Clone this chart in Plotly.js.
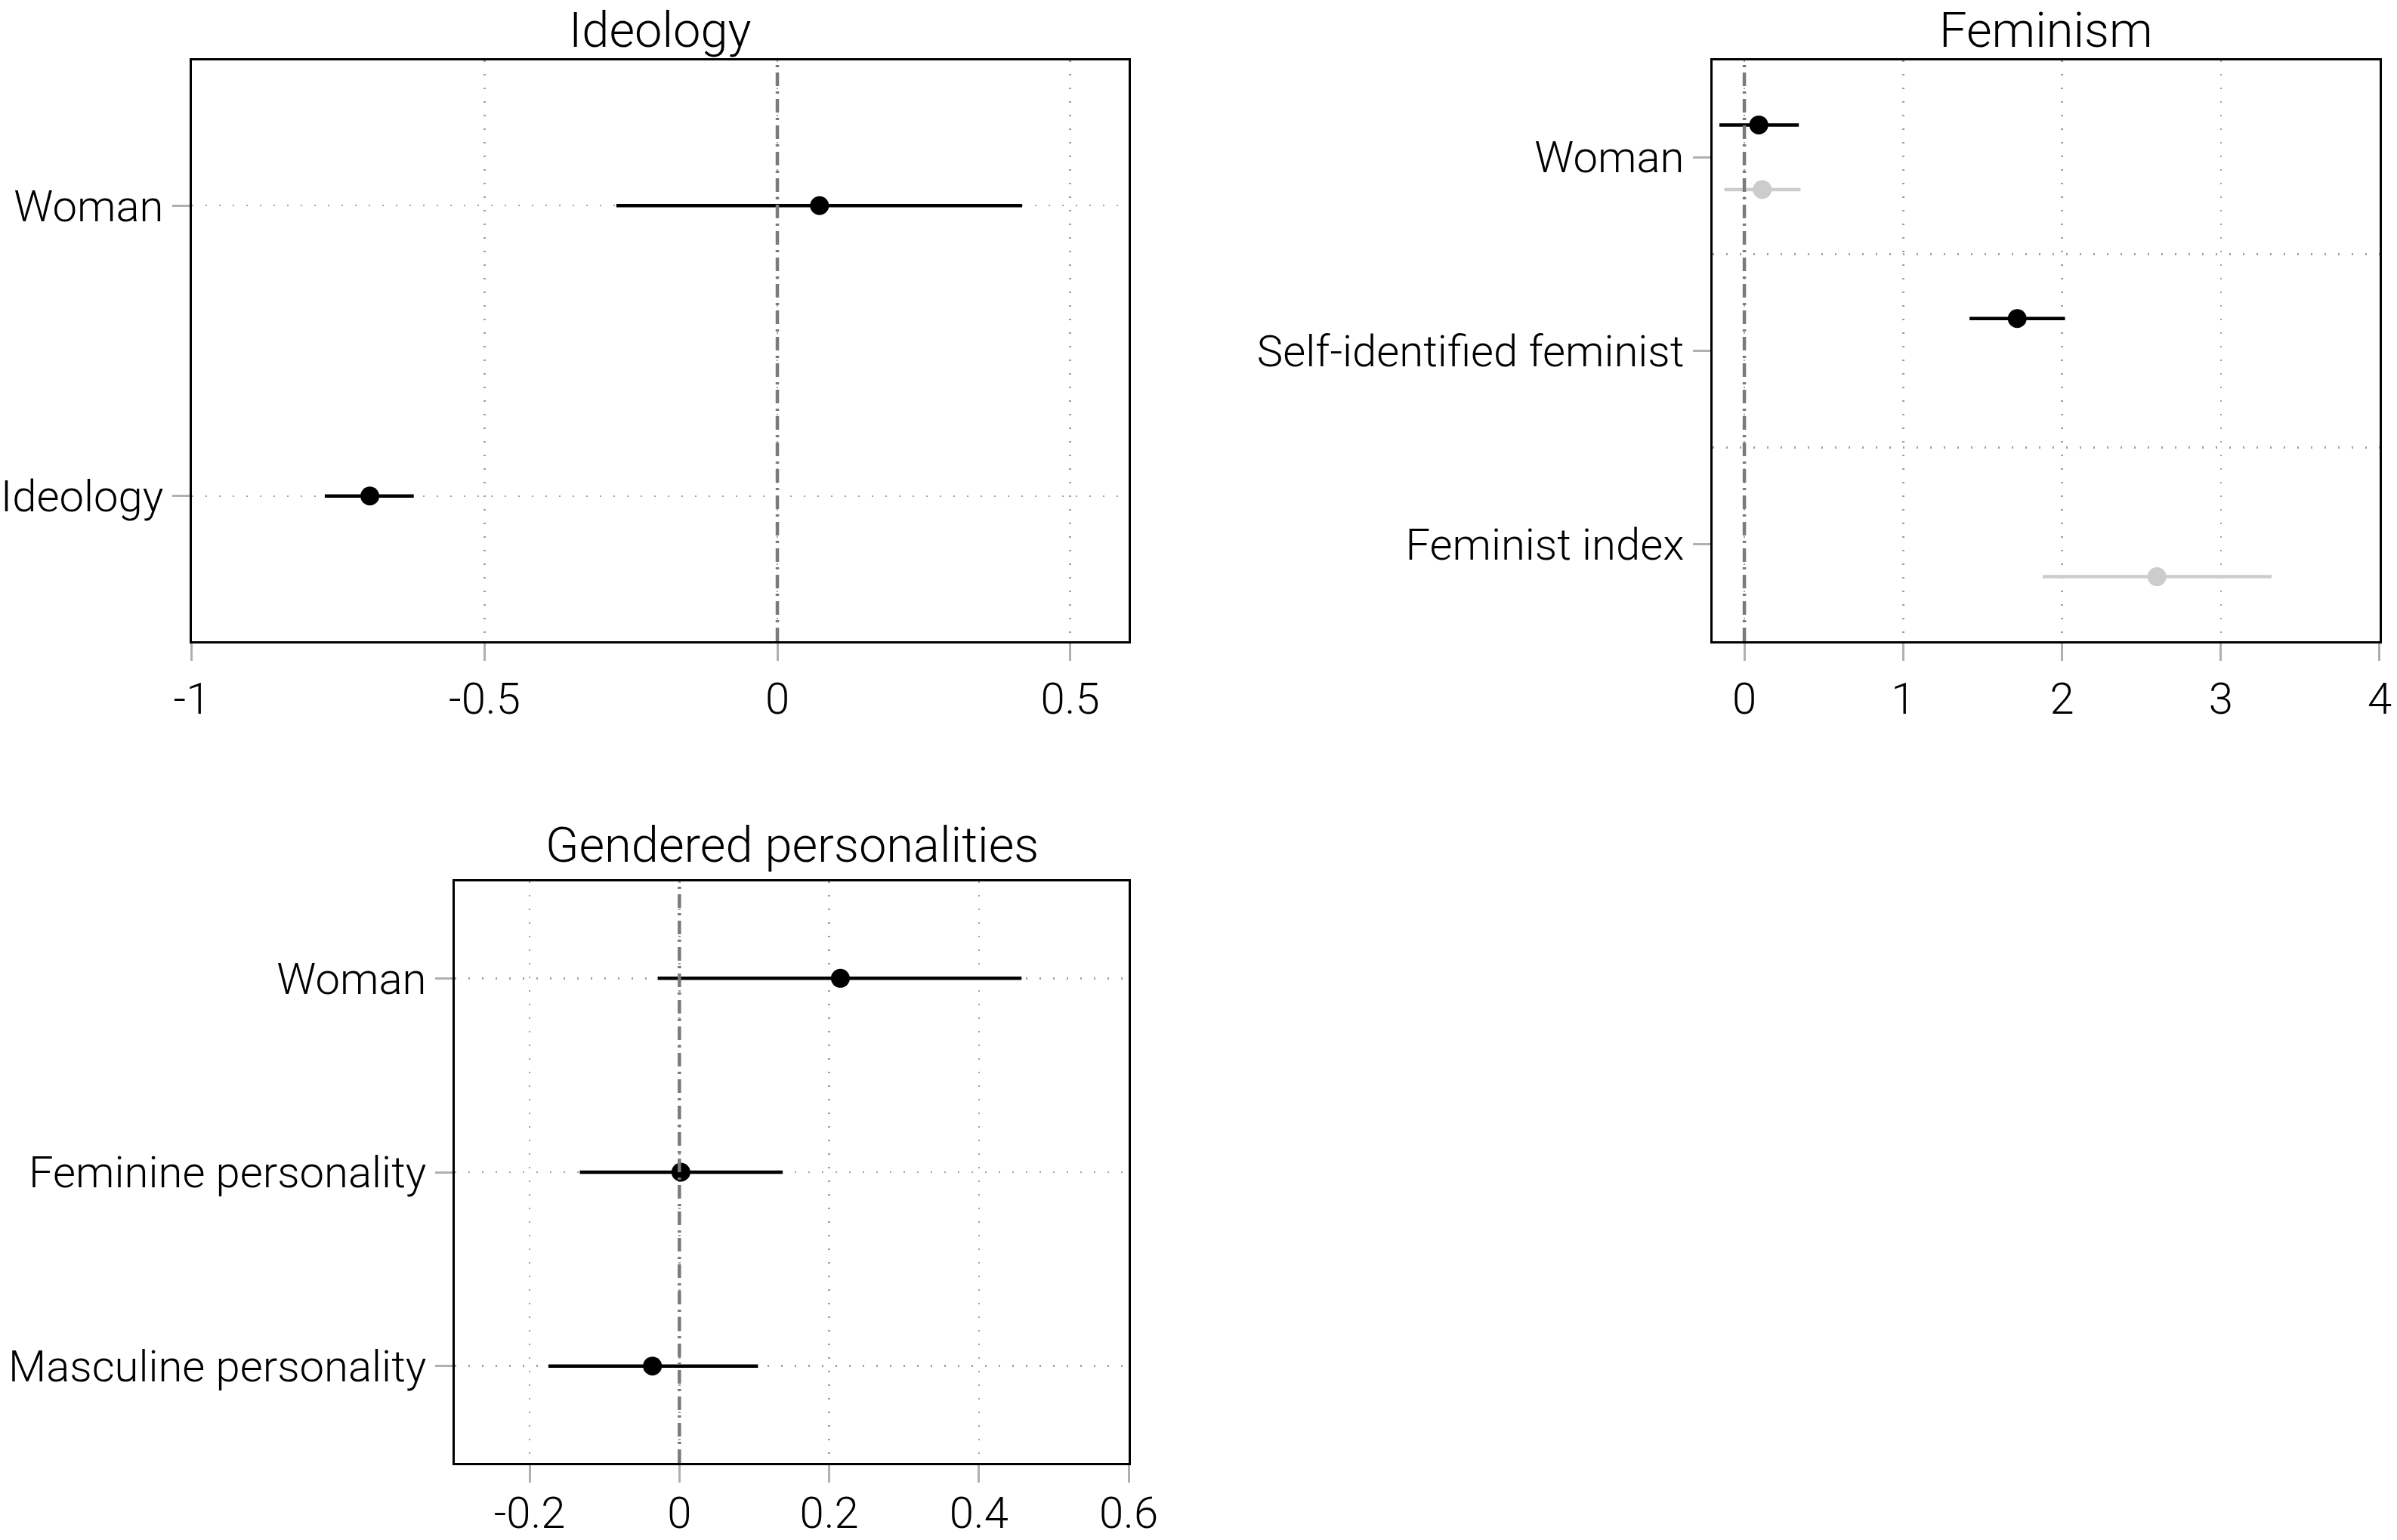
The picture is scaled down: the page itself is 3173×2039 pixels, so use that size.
<!DOCTYPE html>
<html>
<head>
<meta charset="utf-8">
<script src="https://cdn.plot.ly/plotly-3.0.1.min.js"></script>
<style>html,body{margin:0;padding:0;background:#fff;}#plot{width:3173px;height:2039px;}</style>
</head>
<body>
<div id="plot"></div>
<script>
// ---- Data ----
const ideoLabels = ["Woman", "Ideology"];
const ideoEst = [0.072, -0.696];
const ideoLo = [-0.275, -0.773];
const ideoHi = [0.418, -0.621];
const ideoTicks = [-1, -0.5, 0, 0.5];

const femLabels = ["Woman", "Self-identified feminist", "Feminist index"];
const femM1Labels = ["Woman", "Self-identified feminist"];
const femM1Est = [0.091, 1.718];
const femM1Lo = [-0.157, 1.418];
const femM1Hi = [0.343, 2.019];
const femM2Labels = ["Woman", "Feminist index"];
const femM2Est = [0.113, 2.598];
const femM2Lo = [-0.126, 1.878];
const femM2Hi = [0.354, 3.320];
const femTicks = [0, 1, 2, 3, 4];

const genLabels = ["Woman", "Feminine personality", "Masculine personality"];
const genEst = [0.215, 0.002, -0.036];
const genLo = [-0.029, -0.133, -0.175];
const genHi = [0.457, 0.138, 0.105];
const genTicks = [-0.2, 0, 0.2, 0.4, 0.6];

const refValue = 0;

// ---- Helpers ----
const BLACK = "#000000";
const LIGHT = "#cccccc";
const FONT = "Roboto, 'Liberation Sans', Arial, sans-serif";

function pos(allLabels, labels, offset) {
  return labels.map(l => allLabels.indexOf(l) + 1 + offset);
}
function trace(est, lo, hi, ys, color, xa, ya) {
  return {
    type: "scatter", mode: "markers", x: est, y: ys, xaxis: xa, yaxis: ya,
    marker: {color: color, size: 25, line: {width: 0}},
    error_x: {type: "data", symmetric: false,
      array: est.map((e, i) => hi[i] - e),
      arrayminus: est.map((e, i) => e - lo[i]),
      width: 0, thickness: 4.5, color: color},
    showlegend: false, hoverinfo: "x+y", cliponaxis: false
  };
}

const data = [
  trace(ideoEst, ideoLo, ideoHi, pos(ideoLabels, ideoLabels, 0), BLACK, "x", "y"),
  trace(femM1Est, femM1Lo, femM1Hi, pos(femLabels, femM1Labels, -1/6), BLACK, "x2", "y2"),
  trace(femM2Est, femM2Lo, femM2Hi, pos(femLabels, femM2Labels, 1/6), LIGHT, "x2", "y2"),
  trace(genEst, genLo, genHi, pos(genLabels, genLabels, 0), BLACK, "x3", "y3")
];

const TICKFONT = {family: FONT, size: 58, color: "#000", weight: 300};

function xaxis(domain, range, ticks, anchor, standoff) {
  return {
    domain: domain, range: range, anchor: anchor,
    tickmode: "array", tickvals: ticks, ticktext: ticks.map(v => String(v)),
    showline: true, linecolor: "#000", linewidth: 3, mirror: true,
    ticks: "outside", ticklen: 23, tickwidth: 3, tickcolor: "#b0b0b0",
    showgrid: true, gridcolor: "#a0a0a0", gridwidth: 2.5, griddash: "2px,16px",
    zeroline: false, tickfont: TICKFONT,
    ticklabelstandoff: standoff, fixedrange: true
  };
}
function yaxis(domain, labels, anchor, midGrid) {
  const ax = {
    domain: domain, range: [labels.length + 0.5, 0.5], anchor: anchor,
    tickmode: "array", tickvals: labels.map((l, i) => i + 1), ticktext: labels,
    showline: true, linecolor: "#000", linewidth: 3, mirror: true,
    ticks: "outside", ticklen: 23, tickwidth: 3, tickcolor: "#b0b0b0",
    showgrid: !midGrid, gridcolor: "#a0a0a0", gridwidth: 2.5, griddash: "2px,16px",
    zeroline: false, tickfont: TICKFONT,
    ticklabelstandoff: 0, fixedrange: true
  };
  if (midGrid) {
    ax.minor = {tickvals: labels.slice(1).map((l, i) => i + 1.5), ticks: "",
      showgrid: true, gridcolor: "#a0a0a0", gridwidth: 2.5, griddash: "2px,16px"};
  }
  return ax;
}

const topDom = [0.58362, 0.96077];
const botDom = [0.05002, 0.42766];

function refLine(xref, yref) {
  return {type: "line", xref: xref, yref: yref + " domain", x0: refValue, x1: refValue, y0: 0, y1: 1,
    line: {color: "#7a7a7a", width: 4.5, dash: "18px,7px,3px,7px"}, layer: "above"};
}
function title(text, xc, yc, anchor) {
  return {text: text, xref: "paper", yref: "paper", x: xc, y: yc, xanchor: "center", yanchor: anchor,
    showarrow: false, font: {family: FONT, size: 65, color: "#000", weight: 300}};
}

const layout = {
  width: 3173, height: 2039, margin: {l: 0, r: 0, t: 0, b: 0},
  paper_bgcolor: "#fff", plot_bgcolor: "#fff",
  font: {family: FONT, color: "#000"},
  xaxis: xaxis([0.08005, 0.47085], [-1, 0.6], ideoTicks, "y", 0),
  yaxis: yaxis(topDom, ideoLabels, "x", false),
  xaxis2: xaxis([0.71447, 0.99275], [-0.2, 4], femTicks, "y2", 0),
  yaxis2: yaxis(topDom, femLabels, "x2", true),
  xaxis3: xaxis([0.18973, 0.47085], [-0.3, 0.6], genTicks, "y3", -10),
  yaxis3: yaxis(botDom, genLabels, "x3", false),
  shapes: [refLine("x", "y"), refLine("x2", "y2"), refLine("x3", "y3")],
  annotations: [
    title("Ideology", (0.08005 + 0.47085) / 2, 1, "top"),
    title("Feminism", (0.71447 + 0.99275) / 2, 1, "top"),
    title("Gendered personalities", (0.18973 + 0.47085) / 2, 0.4512, "middle")
  ],
  showlegend: false
};

Plotly.newPlot("plot", data, layout, {staticPlot: true, displayModeBar: false});
</script>
</body>
</html>
